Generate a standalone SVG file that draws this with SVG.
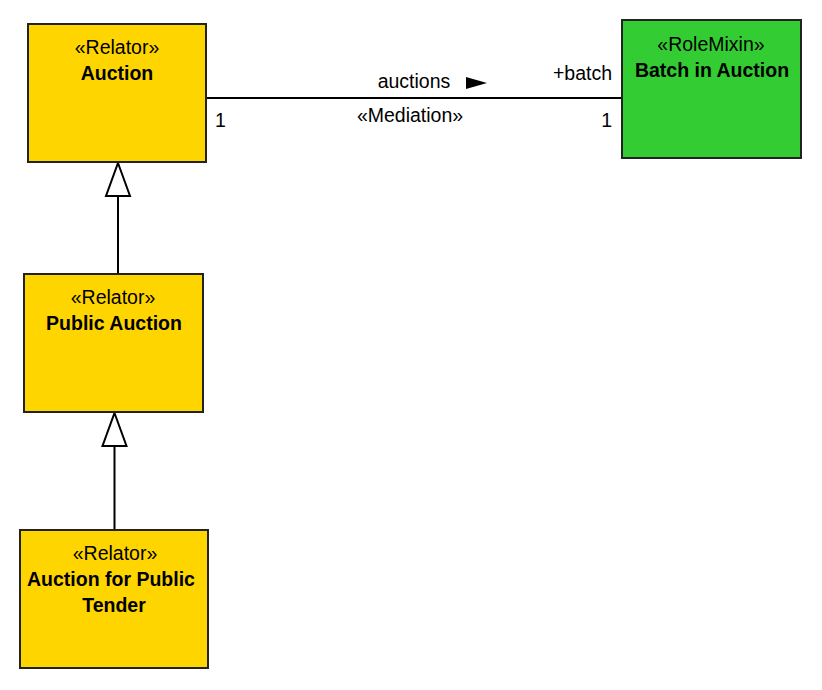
<svg xmlns="http://www.w3.org/2000/svg" width="822" height="690" viewBox="0 0 822 690">
<style>
text{font-family:"Liberation Sans",Arial,sans-serif;font-size:19.5px;fill:#000}
.b{font-weight:bold}
.m{text-anchor:middle}
.e{text-anchor:end}
.box{stroke:#222;stroke-width:2}
.y{fill:#FFD500}
.g{fill:#33CC33}
.ln{stroke:#000;stroke-width:2;fill:none}
.gen{fill:#fff;stroke:#000;stroke-width:2}
</style>
<rect width="822" height="690" fill="#fff"/>
<g id="connectors">
<g id="mediation">
<line class="ln" x1="206" y1="98" x2="622" y2="98"/>
<text x="414" y="88" class="m">auctions</text>
<polygon points="466,77 487,83 466,89" fill="#000"/>
<text x="612" y="80" class="e">+batch</text>
<text x="410" y="122" class="m">«Mediation»</text>
<text x="215" y="127">1</text>
<text x="612" y="127" class="e">1</text>
</g>
<g id="gen1">
<line class="ln" x1="118" y1="196" x2="118" y2="274"/>
<polygon class="gen" points="118,163 130,196 106,196"/>
</g>
<g id="gen2">
<line class="ln" x1="114.5" y1="446" x2="114.5" y2="530"/>
<polygon class="gen" points="114.5,413 126.5,446 102.5,446"/>
</g>
</g>
<g id="auction">
<rect class="box y" x="28" y="24" width="178" height="138"/>
<text x="117" y="54" class="m">«Relator»</text>
<text x="117" y="80" class="m b">Auction</text>
</g>
<g id="batch">
<rect class="box g" x="622" y="20" width="179" height="138"/>
<text x="711" y="51" class="m">«RoleMixin»</text>
<text x="712" y="77" class="m b">Batch in Auction</text>
</g>
<g id="public-auction">
<rect class="box y" x="24" y="274" width="179" height="138"/>
<text x="113" y="304" class="m">«Relator»</text>
<text x="114" y="330" class="m b">Public Auction</text>
</g>
<g id="tender">
<rect class="box y" x="20" y="530" width="188" height="138"/>
<text x="115" y="560" class="m">«Relator»</text>
<text x="111" y="586" class="m b">Auction for Public</text>
<text x="114" y="612" class="m b">Tender</text>
</g>
</svg>
